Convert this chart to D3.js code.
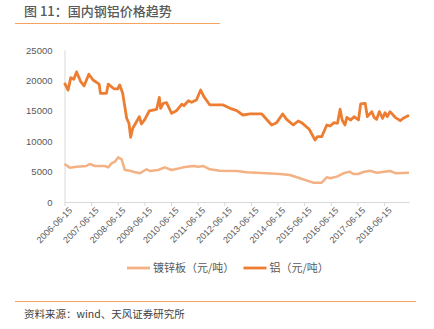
<!DOCTYPE html>
<html>
<head>
<meta charset="utf-8">
<script src="https://cdn.jsdelivr.net/npm/d3@7"></script>
<style>
  html, body { margin: 0; padding: 0; background: #fff; }
  svg { display: block; font-family: "Noto Sans CJK SC", "Microsoft YaHei", sans-serif; }
</style>
</head>
<body>
<svg id="chart" width="434" height="329"></svg>
<script>
// Galvanized sheet price (元/吨)
const zincDates = ["2006-06-15","2006-08-27","2006-11-27","2007-04-12","2007-05-27","2007-08-06","2007-12-21","2008-02-05","2008-03-21","2008-05-06","2008-06-21","2008-08-06","2008-09-21","2008-11-30","2009-01-12","2009-04-15","2009-07-15","2009-08-30","2009-12-21","2010-03-21","2010-06-24","2010-11-30","2011-04-15","2011-06-24","2011-09-01","2011-11-30","2012-04-15","2012-12-03","2013-04-18","2013-09-03","2014-07-18","2014-12-03","2015-04-18","2015-10-18","2016-02-12","2016-04-21","2016-06-06","2016-09-06","2016-12-06","2017-02-27","2017-04-21","2017-06-27","2017-09-06","2017-12-06","2018-03-06","2018-09-06","2018-11-27","2019-05-24"];
const zincValues = [6250,5650,5800,5920,6250,5920,5920,5700,6360,6630,7350,7020,5260,5150,4990,4720,5380,5100,5260,5700,5260,5700,5920,5800,5920,5380,5150,5100,4880,4820,4600,4440,3900,3180,3180,4060,3900,4170,4720,4990,4600,4600,4940,5150,4820,5100,4720,4820];

// Aluminium price (元/吨)
const aluDates = ["2006-06-15","2006-08-03","2006-09-09","2006-10-21","2006-11-27","2007-01-21","2007-03-10","2007-05-15","2007-07-12","2007-10-03","2007-10-21","2008-01-12","2008-02-05","2008-04-27","2008-06-12","2008-07-12","2008-08-21","2008-10-15","2008-11-15","2008-12-09","2009-01-06","2009-04-06","2009-05-06","2009-06-21","2009-08-21","2009-11-30","2010-01-06","2010-01-24","2010-03-01","2010-04-15","2010-06-24","2010-08-30","2010-11-09","2010-12-09","2011-02-09","2011-03-24","2011-05-30","2011-07-27","2011-09-09","2011-11-30","2012-05-30","2012-09-03","2012-12-03","2013-02-24","2013-06-03","2013-11-12","2014-03-27","2014-06-03","2014-08-24","2014-10-18","2015-01-18","2015-03-27","2015-05-12","2015-08-24","2015-11-12","2015-12-15","2016-02-12","2016-04-21","2016-06-06","2016-07-30","2016-09-15","2016-10-21","2016-11-18","2016-12-27","2017-01-21","2017-03-15","2017-04-30","2017-06-30","2017-07-30","2017-09-30","2017-10-30","2017-12-30","2018-01-30","2018-03-06","2018-04-12","2018-05-27","2018-06-30","2018-07-30","2018-09-06","2018-11-15","2019-01-24","2019-03-06","2019-05-24"];
const aluValues = [19600,18400,20450,20200,21400,19850,19100,21000,20070,19400,17880,17880,19400,18590,18590,19250,17880,13770,12950,10640,12120,14030,12830,13600,14970,15250,17220,15410,16230,16340,14590,15020,16070,15840,16660,16400,16780,18420,17320,15960,15960,15410,15020,14310,14480,14480,12670,13050,14480,13600,12670,13320,13050,11960,10200,10740,10740,12670,12500,13050,12950,15250,13490,12670,13930,13490,14030,13490,16120,16230,14030,14860,13930,13600,14860,13770,14690,14030,14860,13930,13370,13770,14250];

const xTickLabels = ["2006-06-15","2007-06-15","2008-06-15","2009-06-15","2010-06-15","2011-06-15","2012-06-15","2013-06-15","2014-06-15","2015-06-15","2016-06-15","2017-06-15","2018-06-15"];
const yTicks = [0, 5000, 10000, 15000, 20000, 25000];

const seriesNames = ["镀锌板（元/吨）", "铝（元/吨）"];
const titleText = "图 11：国内钢铝价格趋势";
const sourceText = "资料来源：wind、天风证券研究所";

const parse = d3.timeParse("%Y-%m-%d");
const zinc = zincDates.map((d, i) => ({ date: parse(d), value: zincValues[i] }));
const alu = aluDates.map((d, i) => ({ date: parse(d), value: aluValues[i] }));

const svg = d3.select("#chart");
const left = 64.5;

const x = d3.scaleTime()
  .domain([parse("2006-06-15"), parse("2019-05-24")])
  .range([left, 409]);
const y = d3.scaleLinear().domain([0, 25000]).range([202, 50]);

// Title and rule
svg.append("text").attr("x", 24).attr("y", 16)
  .attr("font-size", 13).attr("font-weight", 500).attr("fill", "#595959")
  .text(titleText);
svg.append("line").attr("x1", 15).attr("x2", 220).attr("y1", 23.5).attr("y2", 23.5)
  .attr("stroke", "#F4A460").attr("stroke-width", 1.2);

// Y axis
const yAxis = d3.axisLeft(y).tickValues(yTicks).tickFormat(d3.format("d")).tickSize(0).tickPadding(12);
const gy = svg.append("g").attr("transform", `translate(${left},0)`).call(yAxis);
gy.select(".domain").attr("stroke", "#d9d9d9").attr("stroke-width", 1);
gy.selectAll("text").attr("font-size", 9.5).attr("fill", "#595959")
  .attr("font-family", "Liberation Sans, Arial, sans-serif");

// X axis
const xAxis = d3.axisBottom(x)
  .tickValues(xTickLabels.map(parse))
  .tickFormat(d3.timeFormat("%Y-%m-%d"))
  .tickSizeInner(4).tickSizeOuter(0);
const gx = svg.append("g").attr("transform", "translate(0,202)").call(xAxis);
gx.select(".domain").attr("stroke", "#d9d9d9").attr("stroke-width", 1.2);
gx.selectAll(".tick line").attr("stroke", "#d9d9d9");
gx.selectAll("text")
  .attr("font-size", 9).attr("fill", "#595959")
  .attr("font-family", "Liberation Sans, Arial, sans-serif")
  .attr("text-anchor", "end")
  .attr("dx", "-0.1em").attr("dy", "0.55em")
  .attr("transform", "rotate(-45)");

// Lines
const line = d3.line().x(d => x(d.date)).y(d => y(d.value)).curve(d3.curveLinear);
svg.append("path").datum(zinc).attr("d", line)
  .attr("fill", "none").attr("stroke", "#F4B183").attr("stroke-width", 2.5)
  .attr("stroke-linejoin", "round");
svg.append("path").datum(alu).attr("d", line)
  .attr("fill", "none").attr("stroke", "#ED7D31").attr("stroke-width", 2.8)
  .attr("stroke-linejoin", "round");

// Legend
const legend = [
  { name: seriesNames[0], color: "#F4B183", x: 127 },
  { name: seriesNames[1], color: "#ED7D31", x: 243.5 }
];
const lg = svg.append("g");
legend.forEach(l => {
  lg.append("line").attr("x1", l.x).attr("x2", l.x + 23).attr("y1", 268).attr("y2", 268)
    .attr("stroke", l.color).attr("stroke-width", 2.8);
  lg.append("text").attr("x", l.x + 26).attr("y", 272)
    .attr("font-size", 11).attr("fill", "#595959").text(l.name);
});

// Bottom rule and source
svg.append("line").attr("x1", 15).attr("x2", 416).attr("y1", 301.5).attr("y2", 301.5)
  .attr("stroke", "#F4A460").attr("stroke-width", 1.2);
svg.append("text").attr("x", 24).attr("y", 318)
  .attr("font-size", 10.5).attr("fill", "#404040").text(sourceText);
</script>
</body>
</html>
